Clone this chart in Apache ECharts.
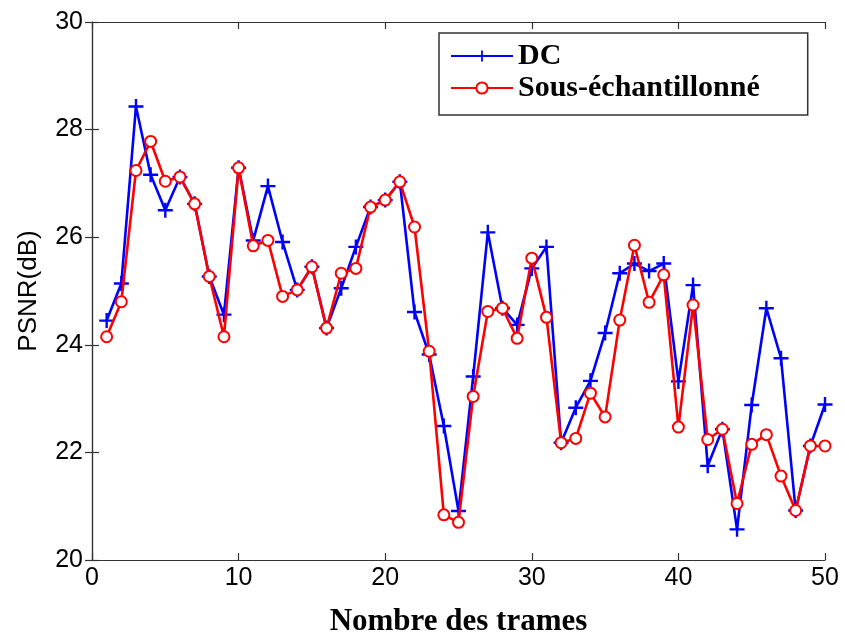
<!DOCTYPE html>
<html><head><meta charset="utf-8">
<script src="https://cdn.jsdelivr.net/npm/echarts@6/dist/echarts.min.js"></script>
<style>html,body{margin:0;padding:0;background:#fff}#c{width:845px;height:638px}</style>
</head><body><div id="c"></div>
<script>
const frames = [1,2,3,4,5,6,7,8,9,10,11,12,13,14,15,16,17,18,19,20,21,22,23,24,25,26,27,28,29,30,31,32,33,34,35,36,37,38,39,40,41,42,43,44,45,46,47,48,49,50];
const dcValues = [24.45,25.14,28.43,27.16,26.5,27.12,26.62,25.27,24.56,27.29,25.94,26.95,25.91,25.02,25.45,24.31,25.05,25.82,26.56,26.69,27.03,24.61,23.82,22.49,20.91,23.41,26.09,24.68,24.37,25.42,25.82,22.18,22.83,23.33,24.22,25.33,25.51,25.37,25.51,23.32,25.11,21.75,22.43,20.57,22.88,24.68,23.75,20.92,22.12,22.89];
const ssValues = [24.15,24.8,27.24,27.78,27.04,27.12,26.62,25.27,24.15,27.29,25.84,25.94,24.9,25.02,25.45,24.31,25.33,25.42,26.56,26.69,27.03,26.19,23.88,20.84,20.7,23.04,24.62,24.68,24.12,25.61,24.51,22.18,22.26,23.1,22.66,24.46,25.85,24.79,25.3,22.47,24.74,22.24,22.43,21.05,22.15,22.33,21.56,20.92,22.12,22.12];
const xTicks = [0,10,20,30,40,50];
const yTicks = [20,22,24,26,28,30];

const plus = 'path://M-1.6,-10H1.6V-1.6H10V1.6H1.6V10H-1.6V1.6H-10V-1.6H-1.6Z';
const chart = echarts.init(document.getElementById('c'));
const axisLine = {show:true, lineStyle:{color:'#333', width:1.2}};
const tick = {show:true, inside:true, length:7, lineStyle:{color:'#333', width:1.2}};
const lbl = {color:'#000', fontFamily:'Liberation Sans, Arial', fontSize:25};
chart.setOption({
  animation:false,
  backgroundColor:'#fff',
  grid:{left:92, right:20, top:22, bottom:78, show:false, containLabel:false, outerBoundsMode:'none'},
  legend:{
    orient:'vertical', left:439, top:33,
    padding:[8,48,12,11], itemGap:2,
    itemWidth:62, itemHeight:14,
    backgroundColor:'#fff', borderColor:'#333', borderWidth:1.5,
    textStyle:{fontFamily:'Liberation Serif, Times New Roman', fontWeight:'bold', fontSize:30, color:'#000'},
    data:['DC','Sous-échantillonné']
  },
  xAxis:[
    {type:'value', min:0, max:50, interval:10, position:'bottom',
     axisLine, axisTick:tick, splitLine:{show:false},
     axisLabel:Object.assign({margin:6, formatter:v=>xTicks.includes(v)?String(v):''}, lbl),
     name:'Nombre des trames', nameLocation:'middle', nameGap:46,
     nameTextStyle:{fontFamily:'Liberation Serif, Times New Roman', fontWeight:'bold', fontSize:31, color:'#000'}},
    {type:'value', min:0, max:50, interval:10, position:'top',
     axisLine, axisTick:tick, axisLabel:{show:false}, splitLine:{show:false}}
  ],
  yAxis:[
    {type:'value', min:20, max:30, interval:2, position:'left',
     axisLine, axisTick:tick, splitLine:{show:false},
     axisLabel:Object.assign({margin:9, formatter:v=>yTicks.includes(v)?String(v):''}, lbl),
     name:'PSNR(dB)', nameLocation:'middle', nameGap:50,
     nameTextStyle:{fontFamily:'Liberation Sans, Arial', fontSize:26, color:'#000'}},
    {type:'value', min:20, max:30, interval:2, position:'right',
     axisLine, axisTick:tick, axisLabel:{show:false}, splitLine:{show:false}}
  ],
  series:[
    {name:'DC', type:'line', data:frames.map((f,i)=>[f,dcValues[i]]),
     symbol:plus, symbolSize:15, color:'#0000ff',
     lineStyle:{color:'#0000ff', width:2.6}, itemStyle:{color:'#0000ff'}, z:2},
    {name:'Sous-échantillonné', type:'line', data:frames.map((f,i)=>[f,ssValues[i]]),
     symbol:'emptyCircle', symbolSize:11, color:'#ff0000',
     lineStyle:{color:'#ff0000', width:2.6}, itemStyle:{color:'#ff0000', borderColor:'#ff0000', borderWidth:2}, z:3}
  ]
});
</script></body></html>
